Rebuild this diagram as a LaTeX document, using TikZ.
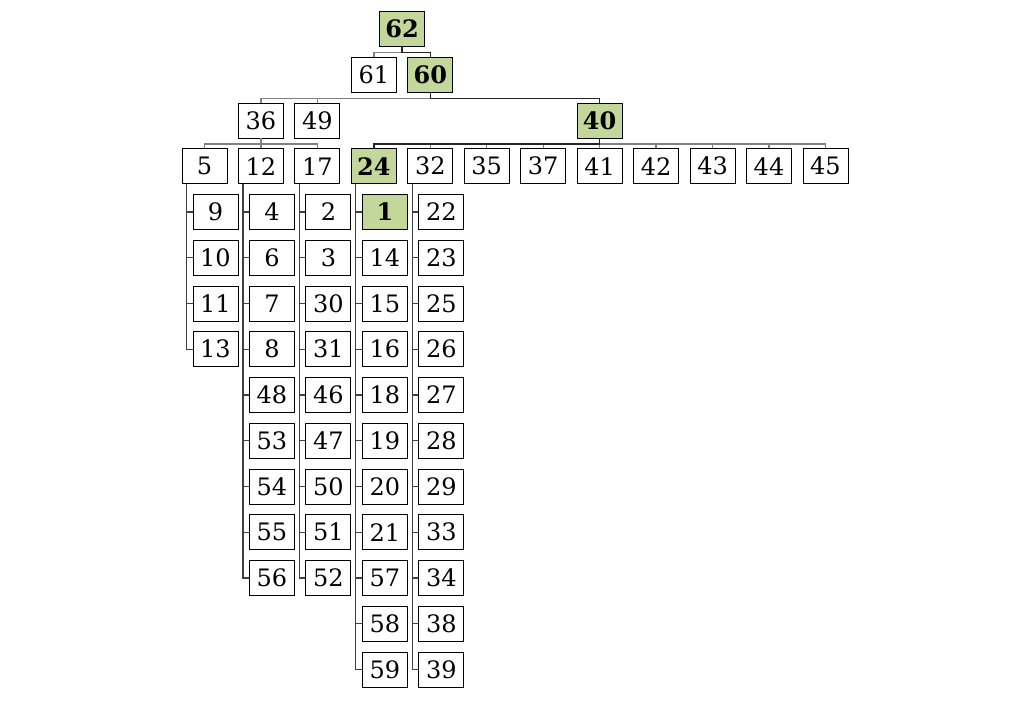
\documentclass[tikz,border=0pt]{standalone}
\usepackage{fontspec}
\setmainfont{DejaVu Serif}
\begin{document}
\begin{tikzpicture}[x=1pt,y=-1pt,
  bx/.style={draw=black,line width=0.9pt,fill=white,minimum width=45pt,minimum height=35pt,inner sep=0pt,font=\fontsize{24}{28}\selectfont},
  hl/.style={bx,fill=hlgreen,font=\fontsize{24}{28}\selectfont\bfseries},
  ln/.style={draw=lgray,line width=1.3pt},
  dk/.style={draw=black!85,line width=1.3pt},
  ls/.style={draw=black!75,line width=1.1pt},
  hlnode-n24-1/.style={hl}]
\definecolor{hlgreen}{HTML}{C4D79B}
\definecolor{lgray}{HTML}{808080}
\useasboundingbox[fill=white] (0,0) rectangle (1029,701);
% column centers
\def\cA{204.5}\def\cB{260.95}\def\cC{317.4}\def\cD{373.85}\def\cE{430.3}
\def\cF{486.75}\def\cG{543.2}\def\cH{599.65}\def\cI{656.1}\def\cJ{712.55}
\def\cK{769}\def\cL{825.45}
% top
\node[hl] (n62) at (402,29) {62};
\node[bx] (n61) at (\cD,74.75) {61};
\node[hl] (n60) at (\cE,74.75) {60};
\node[bx] (n36) at (\cB,120.5) {36};
\node[bx] (n49) at (\cC,120.5) {49};
\node[hl] (n40) at (\cH,120.5) {40};
% row 4
\node[bx] (n5) at (\cA,166.25) {5};
\node[bx] (n12) at (\cB,166.25) {12};
\node[bx] (n17) at (\cC,166.25) {17};
\node[hl] (n24) at (\cD,166.25) {24};
\node[bx] (n32) at (\cE,166.25) {32};
\node[bx] (n35) at (\cF,166.25) {35};
\node[bx] (n37) at (\cG,166.25) {37};
\node[bx] (n41) at (\cH,166.25) {41};
\node[bx] (n42) at (\cI,166.25) {42};
\node[bx] (n43) at (\cJ,166.25) {43};
\node[bx] (n44) at (\cK,166.25) {44};
\node[bx] (n45) at (\cL,166.25) {45};
% tree connectors
\draw[ln] (n62.south) -- ++(0,5.5) -| (n61.north);
\draw[dk] (n62.south) -- ++(0,5.5) -| (n60.north);
\draw[ln] (n60.south) -- ++(0,5.5) -| (n36.north);
\draw[ln] (n60.south) -- ++(0,5.5) -| (n49.north);
\draw[dk] (n60.south) -- ++(0,5.5) -| (n40.north);
\foreach \c in {n5,n12,n17}{\draw[ln] (n36.south) -- ++(0,5.5) -| (\c.north);}
\foreach \c in {n32,n35,n37,n41,n42,n43,n44,n45}{\draw[ln] (n40.south) -- ++(0,5.5) -| (\c.north);}
\draw[dk] (n40.south) -- ++(0,5.5) -| (n24.north);
% child lists
\newcommand{\clist}[3]{%
  \foreach \lab [count=\k] in {#3}{%
    \pgfmathsetmacro{\yy}{166.25+45.75*\k}%
    \node[bx,hlnode-#1-\k/.try] (#1-\k) at (#2+11,\yy) {\lab};
    \draw[ls] ([xshift=5pt]#1.south west) |- (#1-\k.west);
  }}
\clist{n5}{\cA}{9,10,11,13}
\clist{n12}{\cB}{4,6,7,8,48,53,54,55,56}
\clist{n17}{\cC}{2,3,30,31,46,47,50,51,52}
\clist{n24}{\cD}{1,14,15,16,18,19,20,21,57,58,59}
\clist{n32}{\cE}{22,23,25,26,27,28,29,33,34,38,39}
\end{tikzpicture}
\end{document}
